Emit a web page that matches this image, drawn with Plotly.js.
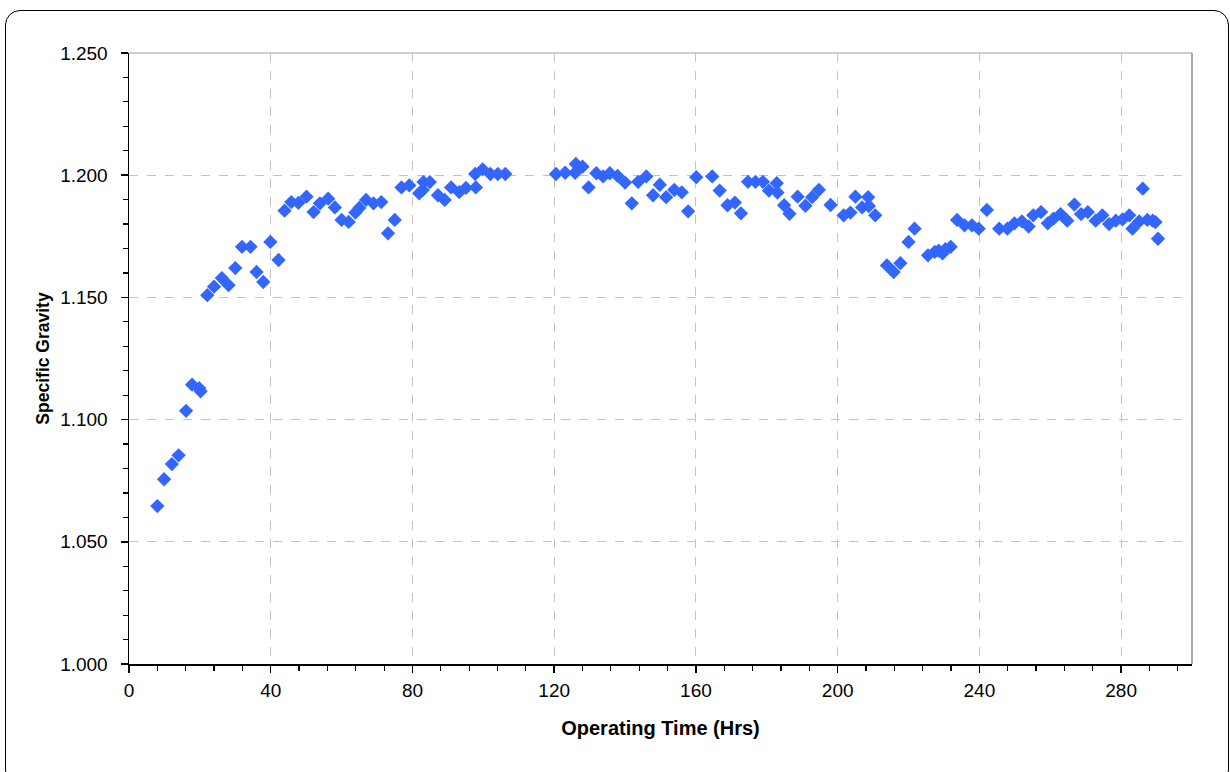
<!DOCTYPE html>
<html>
<head>
<meta charset="utf-8">
<script src="https://cdn.plot.ly/plotly-3.0.1.min.js"></script>
<style>
  html, body { margin: 0; padding: 0; background: #fff; }
  #wrap { position: relative; width: 1230px; height: 772px; overflow: hidden; }
  #chart { position: absolute; left: 0; top: 0; width: 1230px; height: 772px; }
  #frame { position: absolute; left: 5px; top: 10px; width: 1224px; height: 775px;
           border: 1.5px solid #000; border-radius: 15px; pointer-events: none; box-sizing: border-box; }
</style>
</head>
<body>
<div id="wrap">
  <div id="chart"></div>
  <div id="frame"></div>
</div>
<script>
const hours = [
  8.0, 9.9, 12.1, 14.0, 16.1, 17.8, 19.8, 20.2, 22.1, 24.0, 26.2, 28.1, 30.0, 31.9, 34.3, 36.0, 37.9, 39.9,
  42.2, 43.9, 45.8, 47.8, 50.1, 52.1, 53.9, 56.2, 58.1, 60.0, 62.0, 63.9, 65.0, 66.9, 69.0, 71.2, 73.1, 75.0,
  76.9, 79.1, 81.9, 82.9, 83.1, 84.9, 87.2, 89.1, 90.9, 93.2, 95.1, 97.9, 97.7, 99.8, 102.0, 104.1, 106.2,
  120.5, 123.1, 126.1, 125.9, 128.0, 129.7, 131.9, 133.8, 135.7, 137.9, 140.0, 141.9, 143.7, 146.0, 147.9,
  149.8, 151.6, 153.9, 156.0, 157.8, 160.1, 164.6, 166.7, 168.9, 171.0, 172.7, 174.7, 176.8, 178.9, 180.6,
  182.8, 183.0, 184.9, 186.4, 188.7, 190.9, 192.8, 194.7, 198.0, 201.7, 203.6, 205.0, 206.9, 208.6, 208.8,
  210.6, 213.9, 215.8, 217.7, 220.0, 221.7, 225.5, 227.4, 228.5, 229.6, 230.4, 231.9, 233.7, 235.8, 237.9,
  239.8, 242.1, 245.6, 247.9, 249.9, 252.0, 253.9, 255.2, 257.4, 259.3, 260.9, 262.9, 264.8, 266.8, 268.7,
  270.6, 272.8, 274.7, 276.6, 278.5, 280.4, 282.3, 283.2, 285.1, 286.1, 287.4, 288.9, 289.7, 290.4
];
const specificGravity = [
  1.0646, 1.0756, 1.0818, 1.0854, 1.1036, 1.1143, 1.1129, 1.1116, 1.1509, 1.1544, 1.1579, 1.1550, 1.1620, 1.1707, 1.1707, 1.1604, 1.1563, 1.1727,
  1.1653, 1.1855, 1.1890, 1.1887, 1.1912, 1.1849, 1.1885, 1.1904, 1.1868, 1.1817, 1.1809, 1.1847, 1.1866, 1.1899, 1.1885, 1.1890, 1.1762, 1.1817,
  1.1950, 1.1958, 1.1926, 1.1939, 1.1972, 1.1972, 1.1918, 1.1899, 1.1950, 1.1931, 1.1948, 1.1950, 1.2005, 1.2024, 1.2005, 1.2005, 1.2005,
  1.2005, 1.2010, 1.2046, 1.2010, 1.2035, 1.1950, 1.2008, 1.1995, 1.2008, 1.1997, 1.1970, 1.1885, 1.1973, 1.1995, 1.1918,
  1.1961, 1.1910, 1.1940, 1.1930, 1.1852, 1.1992, 1.1995, 1.1937, 1.1877, 1.1888, 1.1844, 1.1973, 1.1973, 1.1973, 1.1937,
  1.1967, 1.1929, 1.1877, 1.1842, 1.1912, 1.1875, 1.1910, 1.1940, 1.1878, 1.1836, 1.1847, 1.1912, 1.1868, 1.1910, 1.1874,
  1.1836, 1.1631, 1.1604, 1.1640, 1.1727, 1.1781, 1.1672, 1.1686, 1.1691, 1.1680, 1.1697, 1.1707, 1.1817, 1.1795, 1.1795,
  1.1781, 1.1858, 1.1781, 1.1781, 1.1803, 1.1811, 1.1790, 1.1836, 1.1849, 1.1803, 1.1822, 1.1841, 1.1814, 1.1880, 1.1841,
  1.1849, 1.1814, 1.1836, 1.1800, 1.1814, 1.1819, 1.1836, 1.1781, 1.1811, 1.1945, 1.1817, 1.1814, 1.1808, 1.1740
];
const xTickVals = [0, 40, 80, 120, 160, 200, 240, 280];
const yTickVals = [1.000, 1.050, 1.100, 1.150, 1.200, 1.250];
const xTitle = 'Operating Time (Hrs)';
const yTitle = 'Specific Gravity';

const fontFam = 'Liberation Sans, Arial, sans-serif';

const trace = {
  type: 'scatter',
  mode: 'markers',
  x: hours,
  y: specificGravity,
  marker: { symbol: 'diamond', size: 11, color: '#3366ff', line: { width: 0 } },
  hoverinfo: 'x+y'
};

const layout = {
  width: 1230,
  height: 772,
  margin: { l: 129, r: 38, t: 53, b: 108 },
  paper_bgcolor: '#ffffff',
  plot_bgcolor: '#ffffff',
  showlegend: false,
  font: { family: fontFam, size: 19, color: '#000' },
  xaxis: {
    range: [0, 300],
    tickmode: 'array',
    tickvals: xTickVals,
    ticktext: xTickVals.map(String),
    ticks: 'outside',
    ticklen: 7,
    tickwidth: 1.5,
    tickcolor: '#000',
    ticklabelstandoff: 2,
    minor: { dtick: 8, ticks: 'outside', ticklen: 5, tickwidth: 1.2, tickcolor: '#000', showgrid: false },
    showline: true,
    linecolor: '#000',
    linewidth: 1.5,
    showgrid: true,
    gridcolor: '#c4c4c4',
    griddash: 'dash',
    gridwidth: 1,
    zeroline: false,
    tickfont: { size: 19, family: fontFam },
    title: { text: '<b>' + xTitle + '</b>', font: { size: 20, family: fontFam }, standoff: 20 }
  },
  yaxis: {
    range: [1.0, 1.25],
    tickmode: 'array',
    tickvals: yTickVals,
    ticktext: yTickVals.map(v => v.toFixed(3)),
    ticks: 'outside',
    ticklen: 7,
    tickwidth: 1.5,
    tickcolor: '#000',
    ticklabelstandoff: 9,
    minor: { dtick: 0.01, ticks: 'outside', ticklen: 5, tickwidth: 1.2, tickcolor: '#000', showgrid: false },
    showline: true,
    linecolor: '#000',
    linewidth: 1.5,
    showgrid: true,
    gridcolor: '#c4c4c4',
    griddash: 'dash',
    gridwidth: 1,
    zeroline: false,
    tickfont: { size: 19, family: fontFam },
    title: { text: '<b>' + yTitle + '</b>', font: { size: 17.5, family: fontFam }, standoff: 6 }
  },
  shapes: [
    { type: 'line', xref: 'paper', yref: 'paper', x0: 1, x1: 1, y0: 0, y1: 1,
      line: { color: '#8a8a8a', width: 1.5 }, layer: 'above' },
    { type: 'line', xref: 'paper', yref: 'paper', x0: 0, x1: 1, y0: 1, y1: 1,
      line: { color: '#a0a0a0', width: 1.2 }, layer: 'below' }
  ]
};

Plotly.newPlot('chart', [trace], layout, { displayModeBar: false, staticPlot: true });
</script>
</body>
</html>
